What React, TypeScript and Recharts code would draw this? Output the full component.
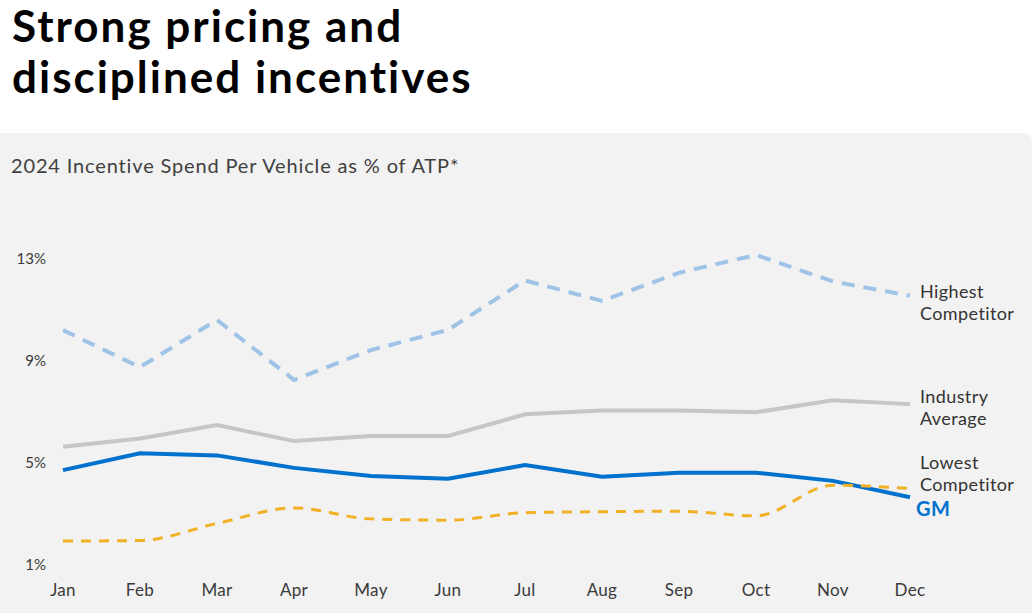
import { LineChart, Line, XAxis, YAxis } from 'recharts'

const months = ['Jan', 'Feb', 'Mar', 'Apr', 'May', 'Jun', 'Jul', 'Aug', 'Sep', 'Oct', 'Nov', 'Dec']
const highest = [10.15, 8.7, 10.55, 8.2, 9.37, 10.16, 12.1, 11.3, 12.4, 13.1, 12.06, 11.5]
const industry = [5.58, 5.9, 6.43, 5.8, 6.0, 6.0, 6.85, 7.0, 7.0, 6.93, 7.4, 7.25]
const gm = [4.66, 5.32, 5.24, 4.75, 4.43, 4.32, 4.86, 4.4, 4.56, 4.56, 4.24, 3.6]
const lowest = [1.88, 1.9, 2.57, 3.18, 2.75, 2.7, 2.99, 3.03, 3.05, 2.87, 4.07, 3.94]
const yTicks = [1, 5, 9, 13]

const data = months.map((month, i) => ({
  month,
  highest: highest[i],
  industry: industry[i],
  gm: gm[i],
  lowest: lowest[i],
}))

const FONT = 'Lato, "Noto Sans", sans-serif'
const last = months.length - 1

function endLabel(lines: string[], dx: number, dy: number, color: string, bold = false, size = 18) {
  return (props: any) => {
    if (props.index !== last) return null
    return (
      <text x={props.x + dx} y={props.y + dy} fill={color} fontFamily={FONT} fontSize={size}
        fontWeight={bold ? 700 : 400} letterSpacing={bold ? 0.5 : 0.4}>
        {lines.map((l, k) => (
          <tspan key={k} x={props.x + dx} dy={k === 0 ? 0 : 22}>{l}</tspan>
        ))}
      </text>
    )
  }
}

const XTick = (props: any) => (
  <text x={props.x} y={props.y} textAnchor="middle" dominantBaseline="central" fill="#3a3a3a" fontFamily={FONT} fontSize={17} letterSpacing={0.3}>
    {props.payload.value}
  </text>
)

const YTick = (props: any) => (
  <text x={props.x - 17} y={props.y} textAnchor="end" dominantBaseline="central" fill="#3a3a3a" fontFamily={FONT} fontSize={15}>
    {props.payload.value}%
  </text>
)

export default function App() {
  return (
    <div style={{ position: 'absolute', left: 0, top: 0, width: 1032, height: 613, background: '#fff', overflow: 'hidden', fontFamily: FONT }}>
      <div style={{ position: 'absolute', left: 12, top: 0, fontSize: 44, fontWeight: 700, lineHeight: '51px', letterSpacing: 2, color: '#000' }}>
        Strong pricing and<br />disciplined incentives
      </div>
      <div style={{ position: 'absolute', left: 0, top: 133, width: 1032, height: 480, background: '#f2f2f2', borderRadius: '0 8px 0 0' }} />
      <div style={{ position: 'absolute', left: 11, top: 153, fontSize: 20, letterSpacing: 0.85, color: '#404040' }}>
        2024 Incentive Spend Per Vehicle as % of ATP*
      </div>
      <div style={{ position: 'absolute', left: 0, top: 0 }}>
        <LineChart width={1032} height={613} data={data} margin={{ top: 232, right: 122, bottom: 0, left: 13 }}>
          <XAxis dataKey="month" axisLine={false} tickLine={false} tickSize={0} tickMargin={0} height={24} tick={<XTick />} interval={0} />
          <YAxis domain={[0, 14]} ticks={yTicks} axisLine={false} tickLine={false} tickSize={0} tickMargin={0} width={50} tick={<YTick />} />
          <Line dataKey="highest" stroke="#9fc3e7" strokeWidth={4} strokeDasharray="13 9" dot={false} isAnimationActive={false}
            label={endLabel(['Highest', 'Competitor'], 10, 2, '#333')} />
          <Line dataKey="industry" stroke="#c6c6c3" strokeWidth={4} dot={false} isAnimationActive={false}
            label={endLabel(['Industry', 'Average'], 10, -1, '#333')} />
          <Line dataKey="gm" stroke="#0071cd" strokeWidth={4} dot={false} isAnimationActive={false}
            label={endLabel(['GM'], 6, 19, '#0071cd', true, 20)} />
          <Line type="monotone" dataKey="lowest" stroke="#f2b124" strokeWidth={3} strokeDasharray="10 8" dot={false} isAnimationActive={false}
            label={endLabel(['Lowest', 'Competitor'], 10, -20, '#333')} />
        </LineChart>
      </div>
    </div>
  )
}
